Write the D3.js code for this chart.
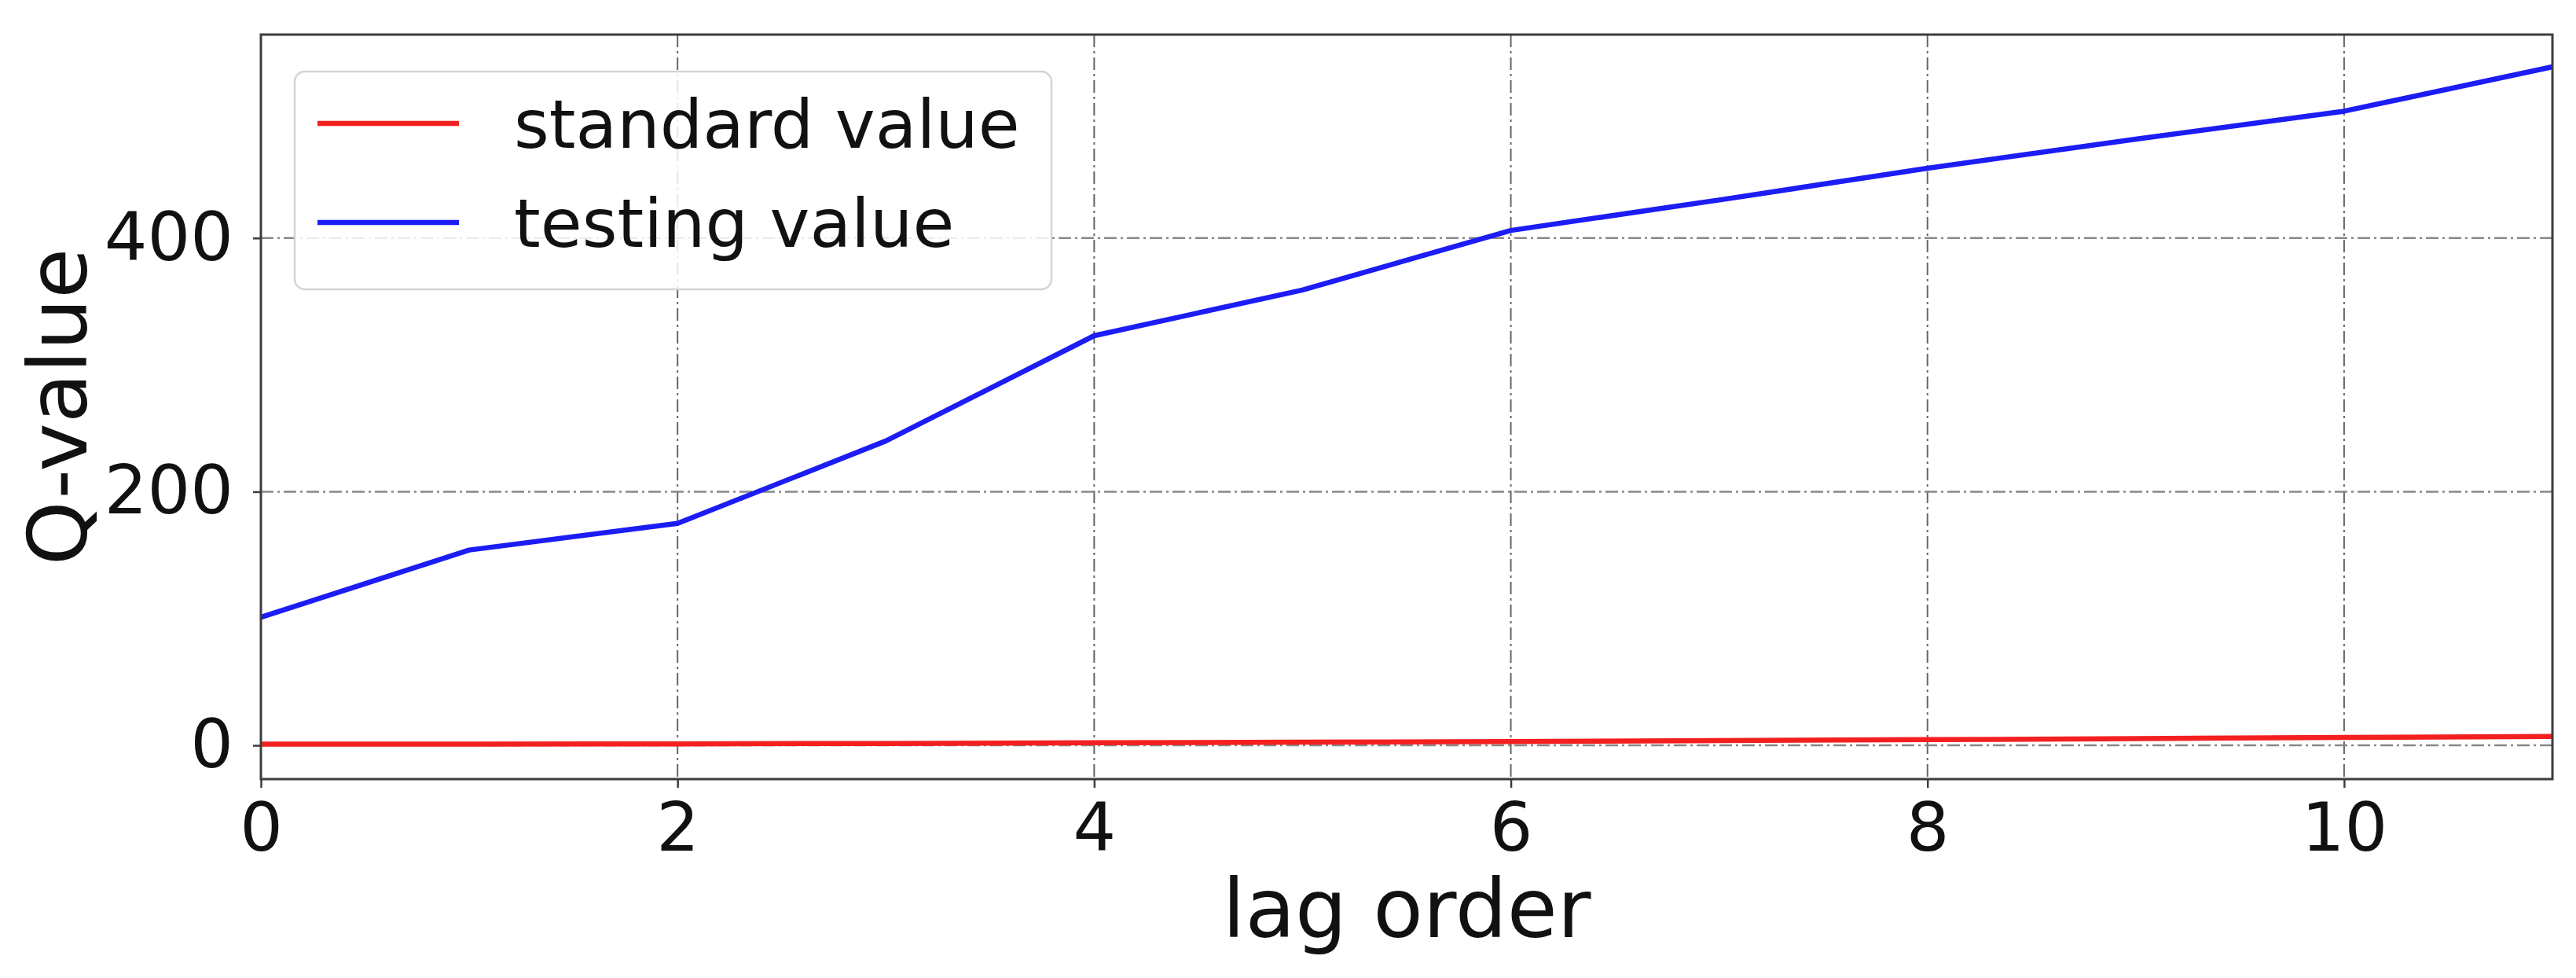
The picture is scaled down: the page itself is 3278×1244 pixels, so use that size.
<!DOCTYPE html>
<html>
<head>
<meta charset="utf-8">
<script src="https://cdn.jsdelivr.net/npm/d3@7"></script>
<style>
  html, body { margin: 0; padding: 0; background: #ffffff; }
  svg { display: block; font-family: "DejaVu Sans", sans-serif; }
</style>
</head>
<body>
<svg id="chart" width="3278" height="1244"></svg>
<script>
// ---- data ----
const lagOrders = [0, 1, 2, 3, 4, 5, 6, 7, 8, 9, 10, 11];
const standardValues = [1, 1, 1.2, 1.5, 2, 2.5, 3, 3.8, 4.5, 5.3, 6.2, 7];
const testingValues = [101, 154, 175, 240, 323, 359, 406, 430, 455, 478, 500, 535];
const seriesNames = ["standard value", "testing value"];
const seriesColors = ["#f42020", "#1c1cf4"];
const xTickValues = [0, 2, 4, 6, 8, 10];
const yTickValues = [0, 200, 400];
const xLabel = "lag order";
const yLabel = "Q-value";

// ---- layout ----
const W = 3278, H = 1244;
const plot = { left: 332, right: 3248, top: 44, bottom: 991 };

const svg = d3.select("#chart");
svg.append("rect").attr("width", W).attr("height", H).attr("fill", "#fff");

const x = d3.scaleLinear().domain([0, 11]).range([plot.left, plot.right]);
const y = d3.scaleLinear().domain([-26.6, 560.4]).range([plot.bottom, plot.top]);

// grid
const grid = svg.append("g");
grid.selectAll(".gx").data(xTickValues).enter().append("line")
  .attr("x1", d => x(d)).attr("x2", d => x(d))
  .attr("y1", plot.top).attr("y2", plot.bottom)
  .attr("stroke", "#666").attr("stroke-width", 2)
  .attr("stroke-dasharray", "16,5,3,5");
grid.selectAll(".gy").data(yTickValues).enter().append("line")
  .attr("x1", plot.left).attr("x2", plot.right)
  .attr("y1", d => y(d)).attr("y2", d => y(d))
  .attr("stroke", "#888").attr("stroke-width", 2.5)
  .attr("stroke-dasharray", "16,5,3,5");

// lines
const line = d3.line().x((d, i) => x(lagOrders[i])).y(d => y(d));
const allSeries = [standardValues, testingValues];
svg.append("g").selectAll("path").data(allSeries).enter().append("path")
  .attr("d", d => line(d))
  .attr("fill", "none")
  .attr("stroke", (d, i) => seriesColors[i])
  .attr("stroke-width", 6.5)
  .attr("stroke-linejoin", "round")
  .attr("stroke-linecap", "butt");

// spines
svg.append("rect")
  .attr("x", plot.left).attr("y", plot.top)
  .attr("width", plot.right - plot.left).attr("height", plot.bottom - plot.top)
  .attr("fill", "none").attr("stroke", "#3c3c3c").attr("stroke-width", 3);

// axes
const xAxis = svg.append("g").attr("transform", `translate(0,${plot.bottom})`)
  .call(d3.axisBottom(x).tickValues(xTickValues).tickFormat(d3.format("d")).tickSize(11).tickPadding(19));
const yAxis = svg.append("g").attr("transform", `translate(${plot.left},0)`)
  .call(d3.axisLeft(y).tickValues(yTickValues).tickFormat(d3.format("d")).tickSize(10).tickPadding(25));
[xAxis, yAxis].forEach(a => {
  a.select(".domain").remove();
  a.selectAll(".tick line").attr("stroke", "#3c3c3c").attr("stroke-width", 2.5);
  a.selectAll(".tick text").attr("fill", "#111").attr("font-size", 86)
    .attr("font-family", "DejaVu Sans, sans-serif");
});

// axis labels
svg.append("text")
  .attr("x", (plot.left + plot.right) / 2).attr("y", 1192)
  .attr("text-anchor", "middle").attr("font-size", 104).attr("fill", "#111")
  .text(xLabel);
svg.append("text")
  .attr("transform", `translate(110,${(plot.top + plot.bottom) / 2}) rotate(-90)`)
  .attr("text-anchor", "middle").attr("font-size", 104).attr("fill", "#111")
  .text(yLabel);

// legend
const legend = svg.append("g");
legend.append("rect")
  .attr("x", 375).attr("y", 91).attr("width", 963).attr("height", 277)
  .attr("rx", 13).attr("ry", 13)
  .attr("fill", "#fff").attr("fill-opacity", 0.85)
  .attr("stroke", "#d4d4d4").attr("stroke-width", 2.5);
const rowY = [157, 283];
seriesNames.forEach((name, i) => {
  legend.append("line")
    .attr("x1", 404).attr("x2", 584)
    .attr("y1", rowY[i]).attr("y2", rowY[i])
    .attr("stroke", seriesColors[i]).attr("stroke-width", 6.5);
  legend.append("text")
    .attr("x", 654).attr("y", rowY[i] + 31)
    .attr("font-size", 86).attr("fill", "#111")
    .text(name);
});
</script>
</body>
</html>
